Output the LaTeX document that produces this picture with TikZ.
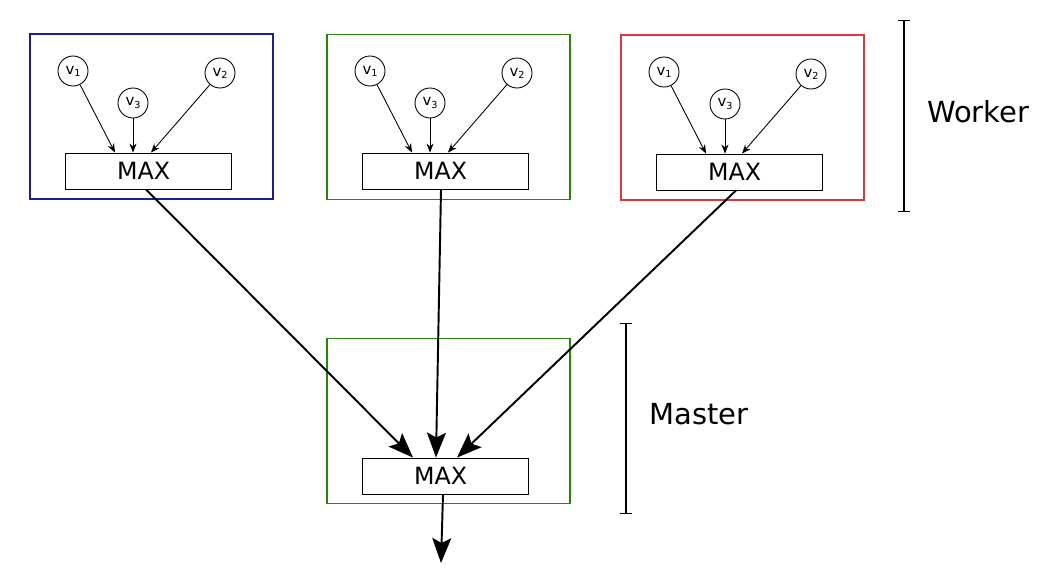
\documentclass[tikz,border=0pt]{standalone}
\usepackage{fontspec}
\setmainfont{DejaVu Sans}
\usepackage{tikz}
\usepackage{xcolor}
\usetikzlibrary{calc}
\usetikzlibrary{positioning, fit, arrows.meta}

\definecolor{wblue}{RGB}{30,30,140}
\definecolor{wgreen}{RGB}{40,135,10}
\definecolor{wred}{RGB}{225,55,60}

\newcommand{\vsub}[1]{v{\fontsize{5.5}{6}\selectfont\raisebox{-0.4ex}{#1}}}

\begin{document}
\begin{tikzpicture}[>=stealth, x=0.02cm, y=-0.02cm,
    frame/.style={draw, line width=0.9pt, minimum width=4.86cm, minimum height=3.3cm, inner sep=0pt},
    maxbox/.style={draw, fill=white, line width=0.5pt, minimum width=3.32cm, minimum height=0.72cm, inner sep=0pt, font=\fontsize{13.5}{15}\selectfont},
    var/.style={draw, circle, fill=white, line width=0.5pt, minimum size=0.6cm, inner sep=0pt, font=\fontsize{8.5}{9}\selectfont},
    small/.style={line width=0.5pt, -{Stealth[length=0.18cm, width=0.14cm]}},
    big/.style={line width=1.1pt, -{Stealth[length=0.5cm, width=0.38cm, inset=0.1cm]}},
    bracket/.style={line width=0.6pt, {Bar[width=0.24cm]}-{Bar[width=0.24cm]}},
    tag/.style={font=\fontsize{16.5}{19}\selectfont}]
                \useasboundingbox (0,0) rectangle (1047,585);

                % Worker frames
                \node[frame, draw=wblue] (fa) at (151.5,116.5) {};
                \node[frame, draw=wgreen] (fb) at (448.5,117) {};
                \node[frame, draw=wred] (fc) at (742.5,117.5) {};

                % Master frame
                \node[frame, draw=wgreen] (fm) at (448.5,421) {};

                % MAX boxes
                \node[maxbox] (ma) at (148,171) {\hspace*{-5pt}MAX};
                \node[maxbox] (mb) at (445,171) {\hspace*{-5pt}MAX};
                \node[maxbox] (mc) at (739,172) {\hspace*{-5pt}MAX};
                \node[maxbox] (mm) at (445,476) {\hspace*{-5pt}MAX};

                % Inputs of each worker
                \node[var] (a1) at (73,71) {\vsub{1}};
                \node[var] (a3) at (133,103) {\vsub{3}};
                \node[var] (a2) at (220,73) {\vsub{2}};
                \node[var] (b1) at (370,71) {\vsub{1}};
                \node[var] (b3) at (430,103) {\vsub{3}};
                \node[var] (b2) at (517,73) {\vsub{2}};
                \node[var] (c1) at (664,72) {\vsub{1}};
                \node[var] (c3) at (725,104) {\vsub{3}};
                \node[var] (c2) at (811,74) {\vsub{2}};

                % Inputs into MAX
                % \draw[parameters] (fromWhere) -- (toWhere);
                \draw[small] (a1) -- ($(ma.north)+(-33,0)$);
                \draw[small] (a3) -- (a3 |- ma.north);
                \draw[small] (a2) -- ($(ma.north)+(3,0)$);
                \draw[small] (b1) -- ($(mb.north)+(-33,0)$);
                \draw[small] (b3) -- (b3 |- mb.north);
                \draw[small] (b2) -- ($(mb.north)+(3,0)$);
                \draw[small] (c1) -- ($(mc.north)+(-33,0)$);
                \draw[small] (c3) -- (c3 |- mc.north);
                \draw[small] (c2) -- ($(mc.north)+(3,0)$);

                % Workers to master
                \draw[big] ($(ma.south)+(-2,0)$) -- ($(mm.north)+(-32,0)$);
                \draw[big] ($(mb.south)+(-4,0)$) -- ($(mm.north)+(-9,0)$);
                \draw[big] ($(mc.south)+(-3,0)$) -- ($(mm.north)+(12,0)$);

                % Output
                \coordinate (out) at (441,563);
                \draw[big] ($(mm.south)+(-2,0)$) -- (out);

                % Brackets with labels
                \coordinate (wt) at (904,20);
                \coordinate (wb) at (904,212);
                \draw[bracket] (wt) -- (wb);
                \node[tag, anchor=west] (worker) at (921,112) {Worker};
                \coordinate (mt) at (626,323);
                \coordinate (mbt) at (626,514);
                \draw[bracket] (mt) -- (mbt);
                \node[tag, anchor=west] (master) at (643,414) {Master};
            \end{tikzpicture}
\end{document}
